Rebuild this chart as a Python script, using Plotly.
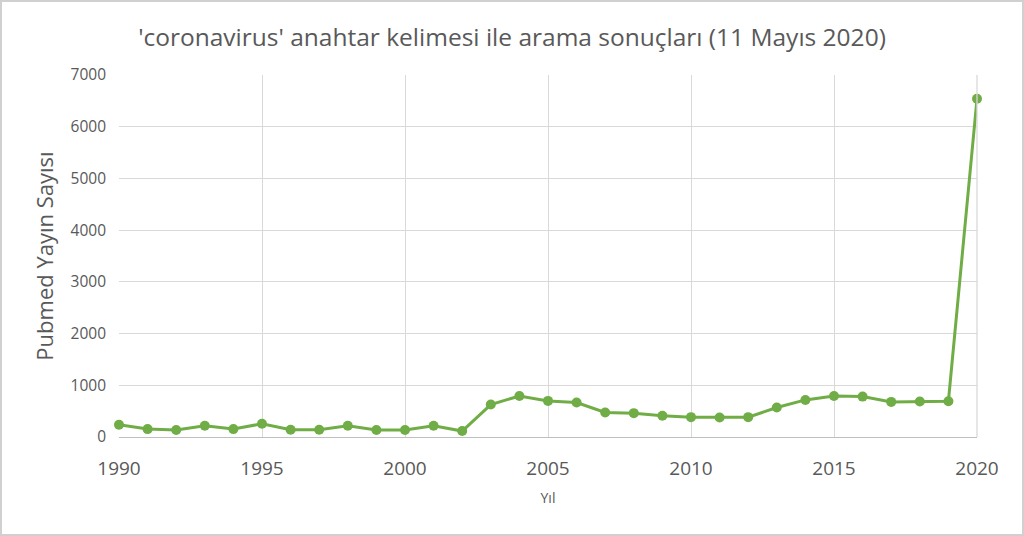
import plotly.graph_objects as go

years = list(range(1990, 2021))
counts = [236, 153, 134, 217, 153, 256, 140, 140, 217, 134, 134, 217, 115,
          627, 794, 698, 666, 474, 461, 410, 384, 378, 384, 570, 717, 794,
          781, 679, 685, 692, 6540]

title_text = "'coronavirus' anahtar kelimesi ile arama sonuçları (11 Mayıs 2020)"
x_title = "Yıl"
y_title = "Pubmed Yayın Sayısı"

font_family = "Open Sans, Noto Sans, sans-serif"
gray_text = "#595959"
grid = "#d9d9d9"
green = "#70ad47"

fig = go.Figure()
fig.add_trace(go.Scatter(
    x=years, y=counts, mode="lines+markers",
    line=dict(color=green, width=3),
    marker=dict(color=green, size=10),
    cliponaxis=False,
    showlegend=False,
))

L, R, T, B = 119, 47, 75, 99
W, H = 1024, 536
pw, ph = W - L - R, H - T - B

fig.update_layout(
    width=W, height=H,
    margin=dict(l=L, r=R, t=T, b=B),
    paper_bgcolor="white", plot_bgcolor="white",
    font=dict(family=font_family, color=gray_text),
    title=dict(text=title_text, x=0.5, xanchor="center", y=1 - 37 / H, yanchor="middle",
               font=dict(size=24.5, color=gray_text)),
    xaxis=dict(range=[1990, 2020], tick0=1990, dtick=5, showgrid=True, gridcolor=grid,
               gridwidth=1.3, showline=True, linecolor="#bfbfbf", linewidth=1.3, mirror=False,
               zeroline=False, ticks="", tickfont=dict(size=19, color=gray_text),
               ticklabelstandoff=14,
               title=dict(text=x_title, font=dict(size=14, color=gray_text), standoff=13)),
    yaxis=dict(range=[0, 7000], dtick=1000, showgrid=True, gridcolor=grid, gridwidth=1.3,
               zeroline=False, showline=False, ticks="", tickfont=dict(size=15.5, color=gray_text),
               ticklabelstandoff=12,
               title=dict(text=y_title, font=dict(size=22, color=gray_text), standoff=10)),
)

# right border of plot (2020 gridline appears as frame)
fig.add_shape(type="line", xref="paper", yref="paper", x0=1, x1=1, y0=0, y1=1,
              line=dict(color=grid, width=1.3))
# outer chart frame
fig.add_shape(type="rect", xref="paper", yref="paper",
              x0=(-L + 1) / pw, x1=(W - L - 1) / pw,
              y0=(-B + 1) / ph, y1=(H - B - 1) / ph,
              line=dict(color="#d0d0d0", width=2), layer="below")

fig.write_html("out.html", config={"displayModeBar": False})

# remove default page margin so the figure sits at the window origin
with open("out.html", "r", encoding="utf-8") as f:
    html = f.read()
html = html.replace("<head>", "<head><style>html,body{margin:0;padding:0;overflow:hidden;}</style>", 1)
with open("out.html", "w", encoding="utf-8") as f:
    f.write(html)
